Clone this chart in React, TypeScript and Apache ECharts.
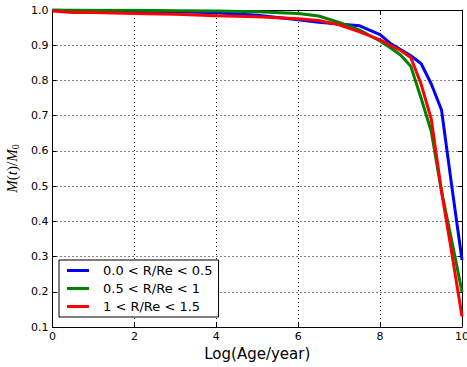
import React, { useEffect, useRef } from "react";
import * as echarts from "echarts";

const xValues = [0, 0.5, 1, 2, 3, 4, 5, 6, 6.5, 7, 7.5, 8, 8.25, 8.5, 8.75, 9, 9.25, 9.5, 9.75, 10];
const innerSeries = [1.0, 0.998, 0.997, 0.996, 0.995, 0.992, 0.985, 0.972, 0.965, 0.96, 0.955, 0.93, 0.905, 0.888, 0.87, 0.848, 0.79, 0.716, 0.5, 0.29];
const middleSeries = [1.0, 1.0, 0.999, 0.999, 0.998, 0.997, 0.995, 0.99, 0.983, 0.965, 0.943, 0.912, 0.893, 0.872, 0.84, 0.75, 0.655, 0.485, 0.345, 0.2];
const outerSeries = [0.997, 0.993, 0.993, 0.99, 0.988, 0.984, 0.981, 0.975, 0.97, 0.958, 0.938, 0.915, 0.9, 0.885, 0.865, 0.79, 0.69, 0.485, 0.31, 0.13];
const seriesNames = ["0.0 < R/Re < 0.5", "0.5 < R/Re < 1", "1 < R/Re < 1.5"];
const seriesColors = ["#0000ff", "#008000", "#ff0000"];
const xTicks = [0, 2, 4, 6, 8, 10];
const yTicks = [0.1, 0.2, 0.3, 0.4, 0.5, 0.6, 0.7, 0.8, 0.9, 1.0];

const FONT = "DejaVu Sans";
const SERIF = "Liberation Serif";

export default function App() {
  const ref = useRef<HTMLDivElement>(null);
  useEffect(() => {
    if (!ref.current) return;
    const chart = echarts.init(ref.current, undefined, { renderer: "svg" });
    const all = [innerSeries, middleSeries, outerSeries];
    const gridLine = { show: true, lineStyle: { color: "#000", width: 1, type: [1, 3] as any } };
    const baseAxisLine = { show: true, onZero: false, lineStyle: { color: "#000", width: 1 } };
    const tick = { show: true, inside: true, length: 4, lineStyle: { color: "#000", width: 1 } };
    chart.setOption({
      animation: false,
      backgroundColor: "#fff",
      textStyle: { fontFamily: FONT },
      grid: { left: 52.5, right: 5, top: 10, bottom: 40, containLabel: false, outerBoundsMode: "none" } as any,
      legend: {
        orient: "vertical",
        left: 59,
        top: 260,
        data: seriesNames,
        icon: "rect",
        itemWidth: 22,
        itemHeight: 3,
        itemGap: 5,
        padding: [4, 6, 4, 8],
        borderColor: "#000",
        borderWidth: 1,
        backgroundColor: "#fff",
        textStyle: { fontFamily: FONT, fontSize: 13, color: "#000", padding: [0, 0, 0, 9] },
      },
      xAxis: [
        {
          type: "value",
          min: 0,
          max: 10,
          interval: 2,
          name: "Log(Age/year)",
          nameLocation: "middle",
          nameGap: 18,
          nameTextStyle: { fontFamily: FONT, fontSize: 15, color: "#000" },
          axisLine: baseAxisLine,
          axisTick: tick,
          axisLabel: { fontFamily: FONT, fontSize: 11, color: "#000", margin: 4, formatter: (v: number) => (xTicks.includes(v) ? String(v) : "") },
          splitLine: gridLine,
        },
        {
          type: "value",
          position: "top",
          min: 0,
          max: 10,
          interval: 2,
          axisLine: baseAxisLine,
          axisTick: tick,
          axisLabel: { show: false },
          splitLine: { show: false },
        },
      ],
      yAxis: [
        {
          type: "value",
          min: 0.1,
          max: 1.0,
          interval: 0.1,
          name: "{i|M}{n|(}{i|t}{n|)/}{i|M}{s|0}",
          nameLocation: "middle",
          nameGap: 25,
          nameRotate: 90,
          nameTextStyle: {
            color: "#000",
            rich: {
              i: { fontFamily: SERIF, fontSize: 15, fontStyle: "italic", color: "#000" },
              n: { fontFamily: SERIF, fontSize: 15, color: "#000" },
              s: { fontFamily: SERIF, fontSize: 10, color: "#000", verticalAlign: "bottom", padding: [7, 0, 0, 0] },
            },
          },
          axisLine: baseAxisLine,
          axisTick: tick,
          axisLabel: {
            fontFamily: FONT,
            fontSize: 11,
            color: "#000",
            margin: 4,
            formatter: (v: number) => {
              const r = Math.round(v * 10) / 10;
              return yTicks.some((t) => Math.abs(t - r) < 1e-6) ? r.toFixed(1) : "";
            },
          },
          splitLine: gridLine,
        },
        {
          type: "value",
          position: "right",
          min: 0.1,
          max: 1.0,
          interval: 0.1,
          axisLine: baseAxisLine,
          axisTick: tick,
          axisLabel: { show: false },
          splitLine: { show: false },
        },
      ],
      series: all.map((vals, i) => ({
        name: seriesNames[i],
        type: "line",
        data: xValues.map((x, j) => [x, vals[j]]),
        showSymbol: false,
        symbol: "none",
        lineStyle: { color: seriesColors[i], width: 3 },
        itemStyle: { color: seriesColors[i] },
        clip: true,
      })),
    });
    return () => chart.dispose();
  }, []);
  return <div ref={ref} style={{ position: "fixed", left: 0, top: 0, width: 467, height: 367 }} />;
}
